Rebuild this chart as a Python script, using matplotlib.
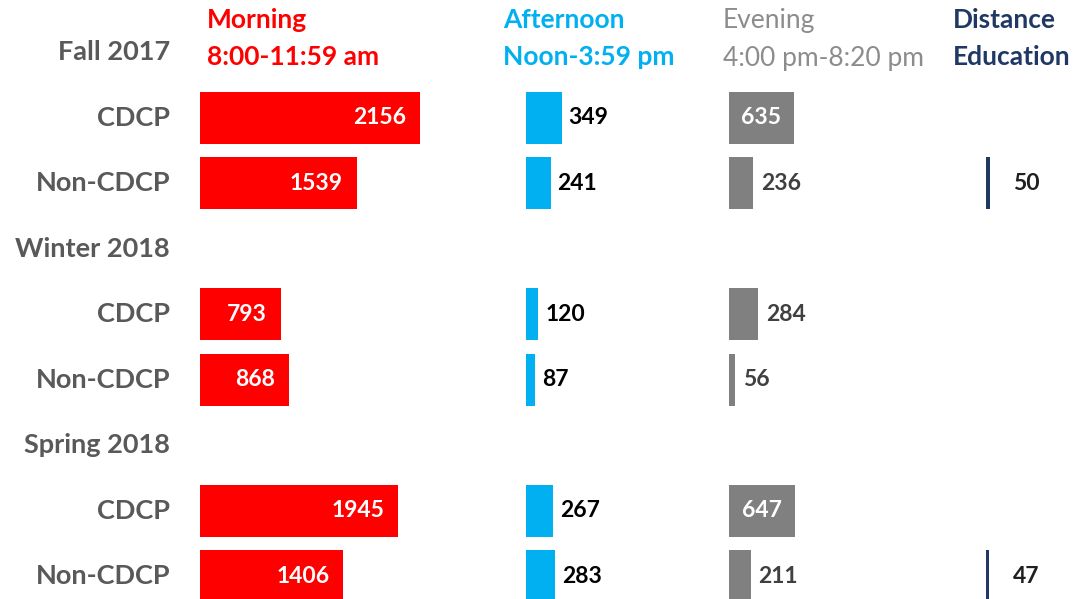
import matplotlib
matplotlib.use("Agg")
import matplotlib.pyplot as plt
from matplotlib.transforms import offset_copy

plt.rcParams['font.family'] = ['Lato', 'DejaVu Sans']

# data
terms = ["Fall 2017", "Winter 2018", "Spring 2018"]
groups = ["CDCP", "Non-CDCP"]
morning = [2156, 1539, 793, 868, 1945, 1406]
afternoon = [349, 241, 120, 87, 267, 283]
evening = [635, 236, 284, 56, 647, 211]
distance = [None, 50, None, None, None, 47]

headers = [
    ("Morning\n8:00-11:59 am", "#ff0000", "bold"),
    ("Afternoon\nNoon-3:59 pm", "#00b0f0", "bold"),
    ("Evening\n4:00 pm-8:20 pm", "#8c8c8c", "normal"),
    ("Distance\nEducation", "#1f3864", "bold"),
]

# layout: pixels per unit and column starts
PX = 0.102
W, H = 1076, 599
col_px = [200, 526, 729, 986]
col_start = [(p - 200) / PX for p in col_px]
head_dx = [7, -23, -6, -33]
slot_px = 65.5

fig = plt.figure(figsize=(W / 100, H / 100), dpi=100)
ax = fig.add_axes([0, 0, 1, 1])
ax.set_xlim(-200 / PX, (W - 200) / PX)
top = -52 / slot_px
ax.set_ylim(8 + (H - 576) / slot_px, top)
ax.axis("off")

label_grey = "#595959"

# row positions
rows = []
for t, term in enumerate(terms):
    hy = t * 3
    ax.text(-30 / PX, hy, term, ha="right", va="center", fontsize=19.5,
            fontweight="bold", color=label_grey)
    for g, grp in enumerate(groups):
        y = hy + 1 + g
        rows.append(y)
        ax.text(-30 / PX, y, grp, ha="right", va="center", fontsize=19.5,
                fontweight="bold", color=label_grey)

bh = 52 / slot_px

def px_off(dx):
    return offset_copy(ax.transData, fig=fig, x=dx, y=0, units="dots")

# morning: labels inside, white
ax.barh(rows, morning, left=col_start[0], height=bh, color="#ff0000")
for y, v in zip(rows, morning):
    ax.text(col_start[0] + v, y, str(v), transform=px_off(-14), ha="right",
            va="center", color="white", fontsize=16.5, fontweight="bold")

# afternoon: labels outside, black
ax.barh(rows, afternoon, left=col_start[1], height=bh, color="#00b0f0")
for y, v in zip(rows, afternoon):
    ax.text(col_start[1] + v, y, str(v), transform=px_off(7), ha="left",
            va="center", color="black", fontsize=16.5, fontweight="bold")

# evening: big ones inside
ax.barh(rows, evening, left=col_start[2], height=bh, color="#808080")
for y, v in zip(rows, evening):
    if v > 400:
        ax.text(col_start[2] + v / 2, y, str(v), ha="center", va="center",
                color="white", fontsize=16.5, fontweight="bold")
    else:
        ax.text(col_start[2] + v, y, str(v), transform=px_off(8), ha="left",
                va="center", color="#404040", fontsize=16.5, fontweight="bold")

# distance education
for y, v in zip(rows, distance):
    if v is None:
        continue
    ax.barh(y, v * 0.7, left=col_start[3], height=bh, color="#1f3864")
    ax.text(col_start[3] + v, y, str(v), transform=px_off(22), ha="left",
            va="center", color="#202020", fontsize=16.5, fontweight="bold")

# column headers
for (txt, c, fw), x0, dx in zip(headers, col_start, head_dx):
    ax.text(x0, top + 8 / slot_px, txt, transform=px_off(dx), ha="left",
            va="top", color=c, fontsize=19, fontweight=fw,
            linespacing=1.65)

fig.savefig("out.png", dpi=100)
